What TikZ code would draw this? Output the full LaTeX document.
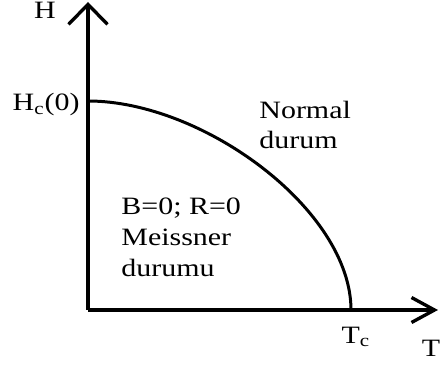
\documentclass[tikz,border=0pt]{standalone}
\usepackage{fontspec}
\setmainfont{Liberation Serif}
\usepackage{tikz}
\usetikzlibrary{arrows.meta}
\definecolor{inkblack}{HTML}{000000}

\tikzset{
    axis/.style={draw=inkblack, line width=1.9pt},
    lbl/.style={font=\fontsize{14.2}{17.6}\selectfont, inner sep=0pt,
                xscale=1.2, transform shape, align=left},
}

\begin{document}
\begin{tikzpicture}
    \useasboundingbox (-1.76,-1.14) rectangle (7.04,6.2);

    % axes
    \coordinate (o) at (0,0);
    \coordinate (ytop) at (0,6.16);
    \coordinate (xend) at (7.0,0);
    \draw[axis, -{Straight Barb[length=0.4cm,width=0.78cm]}] (o) -- (ytop);
    \draw[axis, -{Straight Barb[length=0.46cm,width=0.5cm]}] (o) -- (xend);

    % critical field curve
    \coordinate (hc) at (0,4.18);
    \coordinate (tc) at (5.26,0);
    \draw[line width=1.7pt] (hc) .. controls (2.3,4.18) and (5.26,2.0) .. (tc);

    % axis labels
    \node[lbl] (hlbl) at (-0.86,6.0) {H};
    \node[lbl, anchor=east] (hclbl) at (-0.16,4.1) {H\textsubscript{c}(0)};
    \node[lbl] (tclbl) at (5.36,-0.54) {T\textsubscript{c}};
    \node[lbl] (tlbl) at (6.86,-0.76) {T};

    % regions
    \node[lbl, anchor=west] (normal) at (3.42,3.7) {Normal\\durum};
    \node[lbl, anchor=west] (meissner) at (0.66,1.46) {B=0; R=0\\Meissner\\durumu};
\end{tikzpicture}
\end{document}
